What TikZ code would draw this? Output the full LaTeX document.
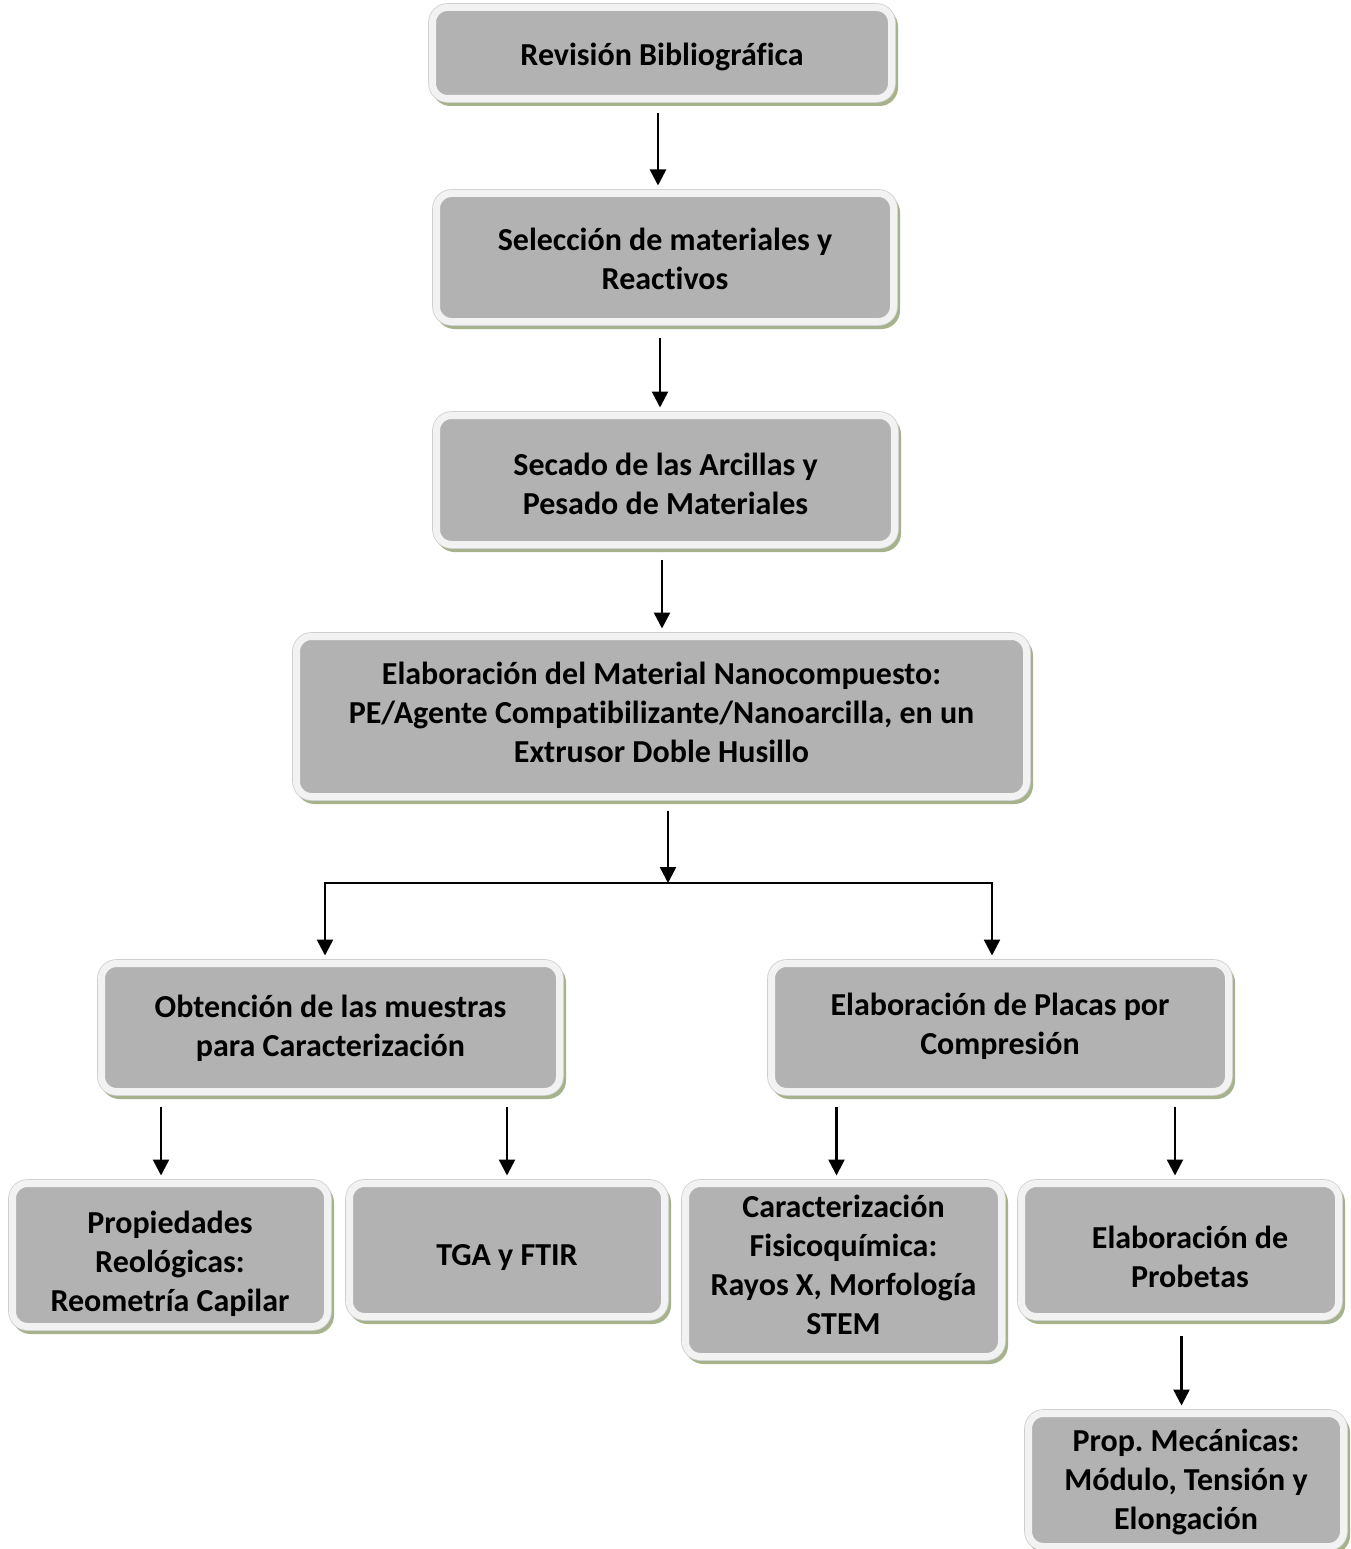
\documentclass[tikz,border=0pt]{standalone}
\usepackage{fontspec}
\setmainfont{Carlito}[Ligatures={NoCommon}]
\usetikzlibrary{arrows.meta,shadows}
\definecolor{innerc}{HTML}{B2B2B2}
\definecolor{bandc}{HTML}{F2F2F2}
\definecolor{edgec}{HTML}{CFCFCF}
\definecolor{shadowc}{HTML}{A6B28B}
\frenchspacing
\tikzset{
  stepbox/.style={
    general shadow={fill=shadowc, draw=shadowc, line width=7pt, shadow xshift=3pt, shadow yshift=-4pt},
    preaction={draw=edgec, line width=8.6pt},
    fill=innerc, draw=bandc, line width=7pt, rounded corners=15pt,
    inner sep=0pt},
  steptext/.style={align=center, inner sep=0pt,
    font=\bfseries\fontsize{32}{38.8}\selectfont\frenchspacing, text=black},
  arr/.style={line width=2.5pt, -{Triangle[width=16pt,length=16pt]}},
  plain/.style={line width=2.5pt}
}
\begin{document}
\begin{tikzpicture}[x=1pt,y=-1pt]
\useasboundingbox[fill=white] (0,0) rectangle (1351,1549);
\node[stepbox, minimum width=459pt, minimum height=91pt] (b1) at (662,53) {};
\node[stepbox, minimum width=457pt, minimum height=128pt] (b2) at (665,257.5) {};
\node[stepbox, minimum width=458pt, minimum height=129pt] (b3) at (665.5,480) {};
\node[stepbox, minimum width=730pt, minimum height=160pt] (b4) at (661.5,716.5) {};
\node[stepbox, minimum width=458pt, minimum height=128pt] (b5) at (330.5,1027.5) {};
\node[stepbox, minimum width=457pt, minimum height=128pt] (b6) at (1000,1027.5) {};
\node[stepbox, minimum width=315pt, minimum height=143pt] (b7) at (170,1255) {};
\node[stepbox, minimum width=315pt, minimum height=133pt] (b8) at (507,1250) {};
\node[stepbox, minimum width=316pt, minimum height=173pt] (b9) at (843.5,1270) {};
\node[stepbox, minimum width=317pt, minimum height=133pt] (b10) at (1180,1250) {};
\node[stepbox, minimum width=315pt, minimum height=133pt] (b11) at (1186,1480) {};

\node[steptext] (t1) at ([yshift=-4pt]b1.center) {Revisión Bibliográfica};
\node[steptext] (t2) at ([yshift=-1pt]b2.center) {Selección de materiales y\\Reactivos};
\node[steptext] (t3) at ([yshift=-4pt]b3.center) {Secado de las Arcillas y\\Pesado de Materiales};
\node[steptext] (t4) at ([yshift=4pt]b4.center) {Elaboración del Material Nanocompuesto:\\PE/Agente Compatibilizante/Nanoarcilla, en un\\Extrusor Doble Husillo};
\node[steptext] (t5) at ([yshift=-1pt]b5.center) {Obtención de las muestras\\para Caracterización};
\node[steptext] (t6) at ([yshift=1pt]b6.center) {Elaboración de Placas por\\Compresión};
\node[steptext] (t7) at ([yshift=-9pt]b7.center) {Propiedades\\Reológicas:\\Reometría Capilar};
\node[steptext] (t8) at ([yshift=-8pt]b8.center) {TGA y FTIR};
\node[steptext] (t9) at ([yshift=5pt]b9.center) {Caracterización\\Fisicoquímica:\\Rayos X, Morfología\\STEM};
\node[steptext] (t10) at ([xshift=10pt,yshift=-7pt]b10.center) {Elaboración de\\Probetas};
\node[steptext] (t11) at ([yshift=-2pt]b11.center) {Prop. Mecánicas:\\Módulo, Tensión y\\Elongación};

\draw[arr] ([xshift=-4pt,yshift=-11.5pt]b1.south) -- ([xshift=-7pt,yshift=4.5pt]b2.north);
\draw[arr] ([xshift=-5pt,yshift=-12.5pt]b2.south) -- ([xshift=-5.5pt,yshift=4.5pt]b3.north);
\draw[arr] ([xshift=-3.5pt,yshift=-11.5pt]b3.south) -- ([xshift=0.5pt,yshift=4.5pt]b4.north);

\coordinate (j) at (668,883);
\coordinate (jl) at (325,883);
\coordinate (jr) at (992,883);
\draw[arr] ([xshift=6.5pt,yshift=-10.5pt]b4.south) -- (j);
\draw[plain] ([xshift=-1.25pt]jl) -- ([xshift=1.25pt]jr);
\draw[arr] (jl) -- ([xshift=-5.5pt,yshift=4.5pt]b5.north);
\draw[arr] (jr) -- ([xshift=-8pt,yshift=4.5pt]b6.north);

\draw[arr] ([xshift=-169.5pt,yshift=-11.5pt]b5.south) -- ([xshift=-9pt,yshift=4.5pt]b7.north);
\draw[arr] ([xshift=176.5pt,yshift=-11.5pt]b5.south) -- ([xshift=0pt,yshift=4.5pt]b8.north);
\draw[arr] ([xshift=-163.5pt,yshift=-11.5pt]b6.south) -- ([xshift=-7pt,yshift=4.5pt]b9.north);
\draw[arr] ([xshift=175pt,yshift=-11.5pt]b6.south) -- ([xshift=-5pt,yshift=4.5pt]b10.north);
\draw[arr] ([xshift=1.5pt,yshift=-15.5pt]b10.south) -- ([xshift=-4.5pt,yshift=4.5pt]b11.north);
\end{tikzpicture}
\end{document}
